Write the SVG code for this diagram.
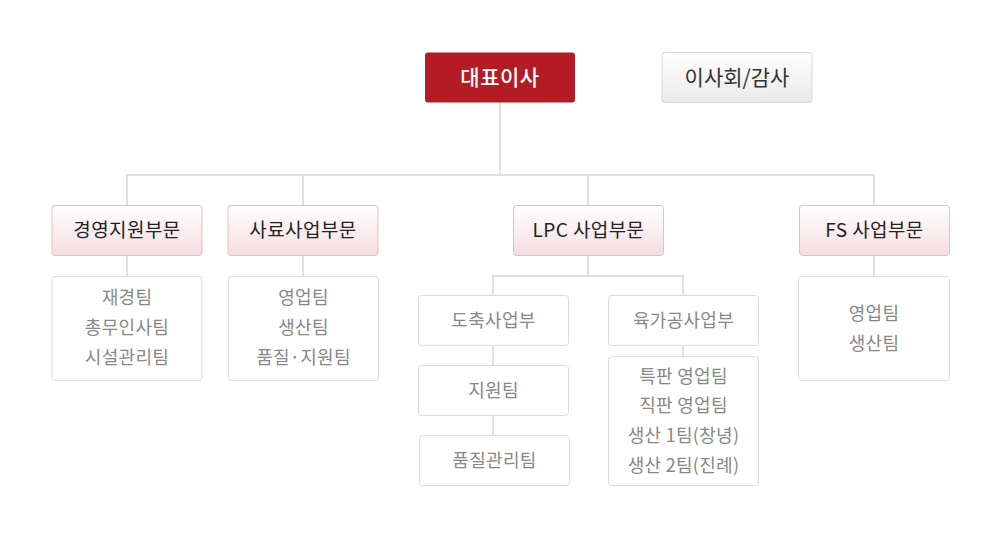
<svg xmlns="http://www.w3.org/2000/svg" width="1000" height="557" viewBox="0 0 1000 557">
<defs>
<linearGradient id="gDiv" x1="0" y1="0" x2="0" y2="1"><stop offset="0" stop-color="#ffffff"/><stop offset="1" stop-color="#f4dde2"/></linearGradient>
<linearGradient id="gGray" x1="0" y1="0" x2="0" y2="1"><stop offset="0" stop-color="#ffffff"/><stop offset="1" stop-color="#e9e9e9"/></linearGradient>
<style>
text{font-family:"Noto Sans CJK KR","Noto Sans",sans-serif;text-anchor:middle}
.div rect{fill:url(#gDiv);stroke:#ebb9c4;stroke-width:1}
.sub rect{fill:#fff;stroke:#dcdcdc;stroke-width:1}
.dt{font-size:19px;fill:#222;letter-spacing:0.4px}
.st{font-size:18px;fill:#888;letter-spacing:0.3px}
.conn{stroke:#e0e0e0;stroke-width:2;fill:none}
</style>
</defs>
<rect width="1000" height="557" fill="#fff"/>
<g id="connectors" class="conn">
<path d="M500 102V175M127 175H874M127 174V205M303 174V205M588 174V205M874 174V205"/>
<path d="M127 255V277M303 255V277M874 255V277"/>
<path d="M588 255V276M493 276H683M493 275V296M683 275V296"/>
<path d="M493 345V366M493 415V436M683 345V357"/>
</g>
<g id="ceo"><rect x="425" y="52.5" width="150" height="50" rx="3" fill="#b31c24"/><text x="500" y="84.5" font-size="21" font-weight="500" fill="#fff" letter-spacing="0.5">대표이사</text></g>
<g id="board"><rect x="662" y="52.5" width="150" height="50" rx="3" fill="url(#gGray)" stroke="#d8d8d8"/><text x="737" y="84.5" font-size="21" fill="#333">이사회/감사</text></g>
<g id="div1" class="div"><rect x="52" y="205.5" width="150" height="50" rx="3"/><text class="dt" x="127" y="237">경영지원부문</text></g>
<g id="div2" class="div"><rect x="228" y="205.5" width="150" height="50" rx="3"/><text class="dt" x="303" y="237">사료사업부문</text></g>
<g id="div3" class="div"><rect x="513.5" y="205.5" width="150" height="50" rx="3"/><text class="dt" x="588.5" y="237">LPC 사업부문</text></g>
<g id="div4" class="div"><rect x="799.5" y="205.5" width="150" height="50" rx="3"/><text class="dt" x="874.5" y="237">FS 사업부문</text></g>
<g id="sub1" class="sub"><rect x="52" y="276.5" width="150" height="104" rx="3"/><text class="st" x="127" y="303.5">재경팀</text><text class="st" x="127" y="333.5">총무인사팀</text><text class="st" x="127" y="363.5">시설관리팀</text></g>
<g id="sub2" class="sub"><rect x="228.5" y="276.5" width="150" height="104" rx="3"/><text class="st" x="303.5" y="303.5">영업팀</text><text class="st" x="303.5" y="333.5">생산팀</text><text class="st" x="303.5" y="363.5">품질·지원팀</text></g>
<g id="sub3a" class="sub"><rect x="418.5" y="295.5" width="150" height="50" rx="3"/><text class="st" x="493.5" y="327">도축사업부</text></g>
<g id="sub3b" class="sub"><rect x="418.5" y="365.5" width="150" height="50" rx="3"/><text class="st" x="493.5" y="397">지원팀</text></g>
<g id="sub3c" class="sub"><rect x="419.5" y="435.5" width="150" height="50" rx="3"/><text class="st" x="494.5" y="467">품질관리팀</text></g>
<g id="sub3d" class="sub"><rect x="608.5" y="295.5" width="150" height="50" rx="3"/><text class="st" x="683.5" y="327">육가공사업부</text></g>
<g id="sub3e" class="sub"><rect x="608.5" y="356.5" width="150" height="129" rx="3"/><text class="st" x="683.5" y="382.5">특판 영업팀</text><text class="st" x="683.5" y="411.5">직판 영업팀</text><text class="st" x="683.5" y="441.5">생산 1팀(창녕)</text><text class="st" x="683.5" y="471.5">생산 2팀(진례)</text></g>
<g id="sub4" class="sub"><rect x="798.5" y="276.5" width="151" height="104" rx="3"/><text class="st" x="874" y="319.5">영업팀</text><text class="st" x="874" y="349.5">생산팀</text></g>
</svg>
